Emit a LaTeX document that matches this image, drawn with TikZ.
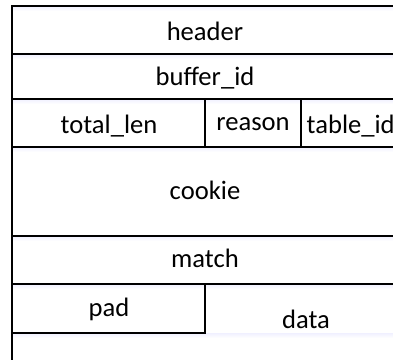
\documentclass[tikz,border=0pt]{standalone}
\usepackage{fontspec}
\setmainfont{Carlito}
\begin{document}
\begin{tikzpicture}[x=1pt,y=-1pt,
  rule/.style={line width=1.6pt, black},
  glow/.style={top color=blue!6, bottom color=white, draw=none},
  lbl/.style={font=\fontsize{26.6}{30}\selectfont, inner sep=0pt, anchor=base}]
\useasboundingbox (0,0) rectangle (393,359);
\clip (0,0) rectangle (393,359);
% faint shadows under horizontal rules
\foreach \yy in {6,54,99,147,236,284,333}{
  \shade[glow] (12,\yy) rectangle (400,\yy+5);
}
% outline rules
\draw[rule] (400,6) -- (12,6) -- (12,365);
\draw[rule] (12,54) -- (400,54);
\draw[rule] (12,99) -- (400,99);
\draw[rule] (12,147) -- (400,147);
\draw[rule] (12,236) -- (400,236);
\draw[rule] (12,284) -- (400,284);
\draw[rule] (205,99) -- (205,147);
\draw[rule] (301,99) -- (301,147);
\draw[rule] (205,284) -- (205,333) -- (12,333);
% labels
\node[lbl] (header) at (205,40) {header};
\node[lbl] (bufid) at (205,85) {buffer\_id};
\node[lbl] (tlen) at (109,133) {total\_len};
\node[lbl] (reason) at (253,130) {reason};
\node[lbl, anchor=base west] (tabid) at (306.5,133) {table\_id};
\node[lbl] (cookie) at (205,199.5) {cookie};
\node[lbl] (match) at (205,267) {match};
\node[lbl] (pad) at (109,316) {pad};
\node[lbl] (data) at (306,328) {data};
\end{tikzpicture}
\end{document}
